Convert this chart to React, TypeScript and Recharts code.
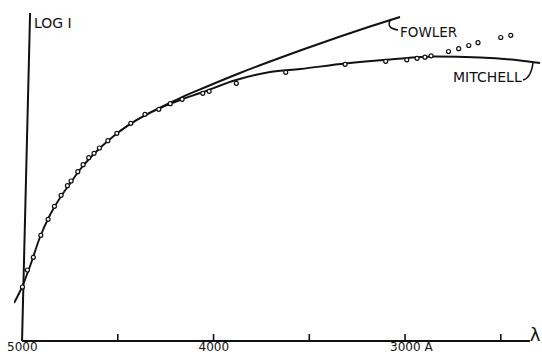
import { ComposedChart, Line, Scatter, XAxis, YAxis, ReferenceLine } from 'recharts'

// wavelength in angstroms (axis runs 5000 -> 2500, left to right), log I in arbitrary units
const mitchell = [
  { x: 5042, y: 0.38 }, { x: 5000, y: 0.54 }, { x: 4958, y: 0.75 }, { x: 4906, y: 1.04 },
  { x: 4854, y: 1.26 }, { x: 4802, y: 1.43 }, { x: 4749, y: 1.575 }, { x: 4697, y: 1.715 },
  { x: 4645, y: 1.83 }, { x: 4593, y: 1.93 }, { x: 4540, y: 2.02 }, { x: 4488, y: 2.1 },
  { x: 4410, y: 2.2 }, { x: 4332, y: 2.28 }, { x: 4253, y: 2.35 }, { x: 4175, y: 2.41 },
  { x: 4070, y: 2.48 }, { x: 3882, y: 2.61 }, { x: 3705, y: 2.69 }, { x: 3548, y: 2.72 },
  { x: 3313, y: 2.775 }, { x: 3078, y: 2.815 }, { x: 2843, y: 2.845 }, { x: 2608, y: 2.835 },
  { x: 2399, y: 2.805 }, { x: 2295, y: 2.78 },
]

const fowler = [
  { x: 4488, y: 2.1 }, { x: 4410, y: 2.2 }, { x: 4332, y: 2.285 }, { x: 4253, y: 2.36 },
  { x: 4175, y: 2.43 }, { x: 4034, y: 2.545 }, { x: 3862, y: 2.68 }, { x: 3705, y: 2.795 },
  { x: 3548, y: 2.905 }, { x: 3339, y: 3.045 }, { x: 3183, y: 3.145 }, { x: 3026, y: 3.24 },
]

const observed = [
  { x: 4998, y: 0.54 }, { x: 4972, y: 0.71 }, { x: 4941, y: 0.837 }, { x: 4902, y: 1.057 },
  { x: 4864, y: 1.217 }, { x: 4831, y: 1.347 }, { x: 4796, y: 1.457 }, { x: 4763, y: 1.553 },
  { x: 4744, y: 1.6 }, { x: 4709, y: 1.693 }, { x: 4681, y: 1.763 }, { x: 4652, y: 1.833 },
  { x: 4624, y: 1.877 }, { x: 4596, y: 1.93 }, { x: 4552, y: 2.003 }, { x: 4505, y: 2.077 },
  { x: 4432, y: 2.177 }, { x: 4358, y: 2.267 }, { x: 4286, y: 2.317 }, { x: 4226, y: 2.373 },
  { x: 4164, y: 2.417 }, { x: 4056, y: 2.477 }, { x: 4023, y: 2.497 }, { x: 3881, y: 2.577 },
  { x: 3623, y: 2.687 }, { x: 3313, y: 2.767 }, { x: 3101, y: 2.797 }, { x: 2991, y: 2.812 },
  { x: 2937, y: 2.827 }, { x: 2896, y: 2.838 }, { x: 2864, y: 2.852 }, { x: 2773, y: 2.895 },
  { x: 2720, y: 2.923 }, { x: 2667, y: 2.955 }, { x: 2619, y: 2.983 }, { x: 2500, y: 3.035 },
  { x: 2448, y: 3.057 },
]

const xTicks = [5000, 4500, 4000, 3500, 3000, 2500]
const tickLabels: Record<number, string> = { 5000: '5000', 4000: '4000', 3000: '3000 A' }

const ink = '#111'
const font = '"DejaVu Sans", sans-serif'

const WaveTick = (props: any) => {
  const { x, y, payload } = props
  const label = tickLabels[payload.value]
  return (
    <g>
      {payload.value !== 5000 && <line x1={x} y1={y} x2={x} y2={y - 7} stroke={ink} strokeWidth={1.6} />}
      {label && (
        <text x={x - 15} y={y + 10} fontSize={12} fontFamily={font} fill={ink} textAnchor="start">
          {label}
        </text>
      )}
    </g>
  )
}

const Ring = (props: any) => (
  <circle cx={props.cx} cy={props.cy} r={2} fill="#fff" stroke={ink} strokeWidth={1.2} />
)

export default function App() {
  return (
    <div style={{ position: 'absolute', left: 0, top: 0, width: 542, height: 354, background: '#fff' }}>
      <ComposedChart width={542} height={354} margin={{ top: 10, right: 1, left: 14, bottom: 0 }}>
        <XAxis
          dataKey="x"
          type="number"
          domain={[2290, 5042]}
          reversed
          allowDataOverflow
          ticks={xTicks}
          interval={0}
          axisLine={false}
          tickLine={false}
          tickSize={0}
          tickMargin={0}
          height={13}
          tick={<WaveTick />}
        />
        <YAxis dataKey="y" type="number" domain={[0, 3.31]} allowDataOverflow hide width={0} />
        <ReferenceLine segment={[{ x: 5000, y: 0 }, { x: 2348, y: 0 }]} stroke={ink} strokeWidth={2} />
        <ReferenceLine segment={[{ x: 5000, y: 0 }, { x: 4958, y: 3.28 }]} stroke={ink} strokeWidth={2} />
        <Line data={mitchell} dataKey="y" type="monotone" stroke={ink} strokeWidth={1.9} dot={false} isAnimationActive={false} />
        <Line data={fowler} dataKey="y" type="monotone" stroke={ink} strokeWidth={1.9} dot={false} isAnimationActive={false} />
        <Scatter data={observed} dataKey="y" shape={<Ring />} isAnimationActive={false} />
        <text x={34} y={28} fontSize={14} fontFamily={font} fill={ink}>LOG I</text>
        <path d="M 391 19 Q 385 28 398 30" fill="none" stroke={ink} strokeWidth={1.5} />
        <text x={400} y={37} fontSize={13.5} fontFamily={font} fill={ink}>FOWLER</text>
        <path d="M 533 63 Q 531 78 523 80" fill="none" stroke={ink} strokeWidth={1.5} />
        <text x={453} y={82} fontSize={14} fontFamily={font} fill={ink}>MITCHELL</text>
        <text x={535} y={341} fontSize={18} fontFamily={font} fill={ink} textAnchor="middle">λ</text>
      </ComposedChart>
    </div>
  )
}
